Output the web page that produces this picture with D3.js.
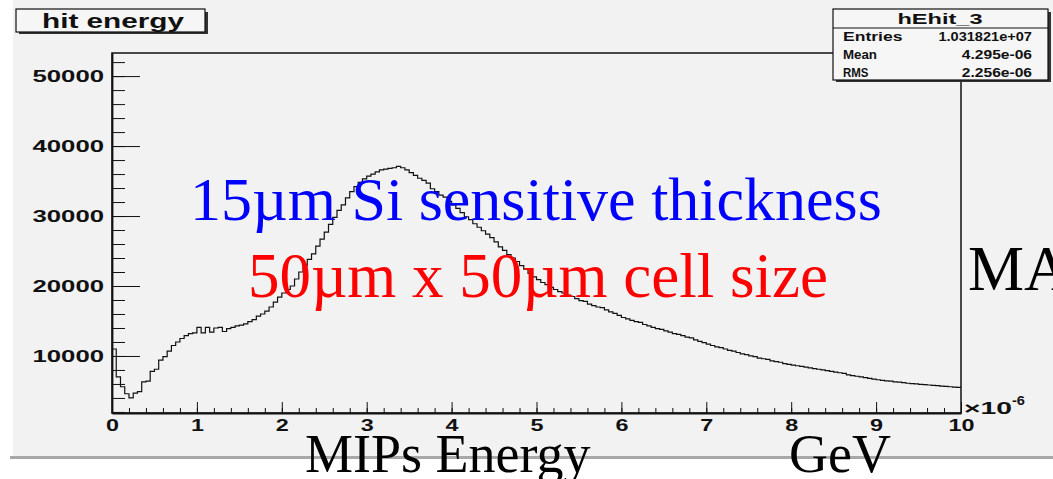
<!DOCTYPE html>
<html>
<head>
<meta charset="utf-8">
<script src="https://cdn.jsdelivr.net/npm/d3@7"></script>
<style>
  body { margin: 0; background: #fff; }
  .bold { font-family: "Liberation Sans", Arial, sans-serif; font-weight: bold; }
  .serif { font-family: "Liberation Serif", "Times New Roman", serif; }
</style>
</head>
<body>
<div id="chart"></div>
<script>
// hit energy histogram, bins of 0.05 (x 1e-6 GeV)
const binWidth = 0.05;
const counts = [
  11000, 7000, 5600, 4600, 4000, 4700, 4900, 6300, 6400, 7800, 8100, 9400, 9900, 10700, 11500, 12000, 12500, 12900, 13200, 13300,
  14100, 13300, 14100, 13400, 14000, 14100, 13500, 13900, 14100, 14300, 14400, 14600, 14900, 15200, 15700, 16000, 16400, 17000, 17700, 18400,
  19000, 19500, 20000, 21000, 22000, 22900, 23800, 24600, 25700, 26700, 27700, 28800, 29800, 30800, 31600, 32600, 33500, 34200, 34800, 35300,
  35700, 36000, 36300, 36600, 36700, 36800, 36900, 37100, 36900, 36600, 36200, 35800, 35400, 35100, 34700, 33900, 33500, 33000, 32700, 32100,
  31600, 31100, 30500, 29900, 29500, 28900, 28400, 27900, 27400, 26900, 26300, 25600, 25100, 24500, 24000, 23500, 22900, 22400, 21800, 21300,
  20900, 20500, 20200, 19800, 19500, 19200, 19000, 18700, 18500, 18200, 17900, 17800, 17400, 17200, 17000, 16900, 16600, 16300, 16100, 15800,
  15500, 15300, 15100, 14900, 14800, 14500, 14300, 14100, 13900, 13800, 13600, 13400, 13200, 13100, 12900, 12700, 12600, 12300, 12100, 11900,
  11700, 11500, 11300, 11200, 11000, 10800, 10700, 10500, 10300, 10200, 10000, 9900, 9700, 9600, 9500, 9300, 9200, 9100, 8900, 8800,
  8700, 8600, 8500, 8400, 8300, 8200, 8100, 8000, 7900, 7800, 7700, 7600, 7500, 7300, 7200, 7100, 7000, 6900, 6800, 6700,
  6600, 6500, 6450, 6400, 6300, 6250, 6200, 6100, 6050, 6000, 5950, 5900, 5850, 5800, 5750, 5700, 5650, 5600, 5550, 5500
];

const xTicks = [0, 1, 2, 3, 4, 5, 6, 7, 8, 9, 10];
const yTicks = [10000, 20000, 30000, 40000, 50000];
const xDomain = [0, 10];
const yDomain = [1850, 53300];

const statsTitle = "hEhit_3";
const statsLabels = ["Entries", "Mean", "RMS"];
const statsValues = ["1.031821e+07", "4.295e-06", "2.256e-06"];

const W = 1053, H = 479;
const frame = { left: 112, right: 961, top: 53, bottom: 413 };

const svg = d3.select("#chart").append("svg")
  .attr("width", W)
  .attr("height", H);

// canvas background like the slide
svg.append("rect").attr("x", 13).attr("y", 0).attr("width", W - 13).attr("height", 457).attr("fill", "#f2f2f2");
svg.append("rect").attr("x", 10).attr("y", 456).attr("width", W - 10).attr("height", 3).attr("fill", "#a8a8a8");

const x = d3.scaleLinear().domain(xDomain).range([frame.left, frame.right]);
const y = d3.scaleLinear().domain(yDomain).range([frame.bottom, frame.top]);

// stretch helper: ROOT fonts in the picture are wide
const stretch = (sel, perChar) => sel.each(function() {
  const t = d3.select(this);
  t.attr("textLength", t.text().length * perChar).attr("lengthAdjust", "spacingAndGlyphs");
});

// frame
svg.append("rect")
  .attr("x", frame.left).attr("y", frame.top)
  .attr("width", frame.right - frame.left).attr("height", frame.bottom - frame.top)
  .attr("fill", "none").attr("stroke", "#111").attr("stroke-width", 1.5);

// y axis: minor ticks
svg.append("g")
  .attr("transform", `translate(${frame.left},0)`)
  .call(d3.axisLeft(y).tickValues(d3.range(2000, 53000, 2000)).tickSizeInner(-13).tickSizeOuter(0).tickFormat(""))
  .call(g => g.select(".domain").remove())
  .call(g => g.selectAll("line").attr("stroke", "#111"));

// y axis: major ticks + labels
const yAxis = svg.append("g")
  .attr("transform", `translate(${frame.left},0)`)
  .call(d3.axisLeft(y).tickValues(yTicks).tickSizeInner(-28).tickSizeOuter(0).tickPadding(8).tickFormat(d3.format("d")))
  .call(g => g.select(".domain").attr("stroke", "#111").attr("stroke-width", 1.8));
yAxis.selectAll("line").attr("stroke", "#111");
yAxis.selectAll("text")
  .attr("class", "bold").attr("font-size", 17).attr("fill", "#111")
  .call(stretch, 14.3);

// x axis: minor ticks
svg.append("g")
  .attr("transform", `translate(0,${frame.bottom})`)
  .call(d3.axisBottom(x).tickValues(d3.range(0.2, 10, 0.2)).tickSizeInner(-5).tickSizeOuter(0).tickFormat(""))
  .call(g => g.select(".domain").remove())
  .call(g => g.selectAll("line").attr("stroke", "#111"));

// x axis: major ticks + labels
const xAxis = svg.append("g")
  .attr("transform", `translate(0,${frame.bottom})`)
  .call(d3.axisBottom(x).tickValues(xTicks).tickSizeInner(-11).tickSizeOuter(0).tickPadding(6).tickFormat(d3.format("d")))
  .call(g => g.select(".domain").attr("stroke", "#111").attr("stroke-width", 1.8));
xAxis.selectAll("line").attr("stroke", "#111");
xAxis.selectAll("text")
  .attr("class", "bold").attr("font-size", 17).attr("fill", "#111")
  .call(stretch, 13);

// exponent label
svg.append("text").attr("class", "bold").attr("x", 964).attr("y", 414)
  .style("font-size", "17px").attr("fill", "#111").text("\u00d710")
  .attr("textLength", 48).attr("lengthAdjust", "spacingAndGlyphs");
svg.append("text").attr("class", "bold").attr("x", 1012).attr("y", 405)
  .style("font-size", "12px").attr("fill", "#111").text("-6")
  .attr("textLength", 13).attr("lengthAdjust", "spacingAndGlyphs");

// histogram outline
const pts = counts.map((c, i) => [i * binWidth, c]);
pts.push([xDomain[1], counts[counts.length - 1]]);
svg.append("path")
  .datum(pts)
  .attr("fill", "none")
  .attr("stroke", "#111")
  .attr("stroke-width", 1.2)
  .attr("d", d3.line().x(d => x(d[0])).y(d => y(d[1])).curve(d3.curveStepAfter));

// title box
svg.append("rect").attr("x", 19).attr("y", 12).attr("width", 189).attr("height", 22).attr("fill", "#333");
svg.append("rect").attr("x", 16).attr("y", 9).attr("width", 189).attr("height", 23)
  .attr("fill", "#f6f6f6").attr("stroke", "#111").attr("stroke-width", 1.2);
svg.append("text").attr("class", "bold").attr("x", 113).attr("y", 28).attr("text-anchor", "middle")
  .attr("font-size", 20).attr("fill", "#111").text("hit energy")
  .attr("textLength", 142).attr("lengthAdjust", "spacingAndGlyphs");

// stats box
svg.append("rect").attr("x", 836).attr("y", 12).attr("width", 215).attr("height", 70).attr("fill", "#333");
svg.append("rect").attr("x", 833).attr("y", 9).attr("width", 215).attr("height", 71)
  .attr("fill", "#f6f6f6").attr("stroke", "#111").attr("stroke-width", 1.2);
svg.append("line").attr("x1", 833).attr("x2", 1048).attr("y1", 28).attr("y2", 28).attr("stroke", "#111").attr("stroke-width", 1.2);
svg.append("text").attr("class", "bold").attr("x", 940).attr("y", 24).attr("text-anchor", "middle")
  .attr("font-size", 15).attr("fill", "#111").text(statsTitle)
  .attr("textLength", 85).attr("lengthAdjust", "spacingAndGlyphs");
const rowY = [41, 59, 77];
svg.selectAll(".slabel").data(statsLabels).enter().append("text")
  .attr("class", "bold").attr("x", 843).attr("y", (d, i) => rowY[i])
  .attr("font-size", 13).attr("fill", "#111").text(d => d)
  .call(stretch, 8.5);
svg.selectAll(".svalue").data(statsValues).enter().append("text")
  .attr("class", "bold").attr("x", 1032).attr("y", (d, i) => rowY[i]).attr("text-anchor", "end")
  .attr("font-size", 13).attr("fill", "#111").text(d => d)
  .call(stretch, 7.8);

// slide overlay text
svg.append("text").attr("class", "serif").attr("x", 190).attr("y", 220)
  .attr("font-size", 62).attr("fill", "#0000ff").text("15\u00b5m Si sensitive thickness");
svg.append("text").attr("class", "serif").attr("x", 248).attr("y", 297)
  .attr("font-size", 63).attr("fill", "#ff0000").text("50\u00b5m x 50\u00b5m cell size");
svg.append("text").attr("class", "serif").attr("x", 968).attr("y", 290)
  .attr("font-size", 63).attr("fill", "#000").text("MA");
svg.append("text").attr("class", "serif").attr("x", 305).attr("y", 472)
  .attr("font-size", 54).attr("fill", "#000").text("MIPs Energy");
svg.append("text").attr("class", "serif").attr("x", 789).attr("y", 472)
  .attr("font-size", 54).attr("fill", "#000").text("GeV");
</script>
</body>
</html>
